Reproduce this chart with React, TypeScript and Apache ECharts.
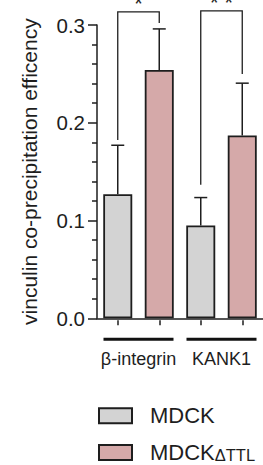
import React, { useEffect, useRef } from 'react';
import * as echarts from 'echarts';

// ---- data ----
const categories = ['β-integrin', 'KANK1'];
const seriesNames = ['MDCK', 'MDCK ΔTTL'];
const mdckValues = [0.127, 0.095];
const mdckErrors = [0.05, 0.0285];
const ttlValues = [0.254, 0.187];
const ttlErrors = [0.042, 0.0535];
const yMin = 0;
const yMax = 0.3;
const yInterval = 0.1;
const barSlots = ['MDCK β-integrin', 'MDCK ΔTTL β-integrin', 'MDCK KANK1', 'MDCK ΔTTL KANK1'];
const sigLabels = ['*', '* *'];
const sigFrom = [0, 2];
const sigTo = [1, 3];
const sigTop = [0.3135, 0.3145];
const sigFromEnd = [0.1825, 0.1365];
const sigToEnd = [0.302, 0.25];

const FONT = '"Liberation Sans", Arial, sans-serif';
const INK = '#1e1e1e';

const legendRich = {
  m: { fontSize: 22, lineHeight: 22, verticalAlign: 'top', color: INK, fontFamily: FONT },
  s: { fontSize: 16.5, lineHeight: 16, padding: [16, 0, 0, 0], verticalAlign: 'bottom', color: INK, fontFamily: FONT },
};

function makeLegend(name: string, top: number) {
  return {
    orient: 'vertical',
    left: 98,
    top,
    padding: 0,
    itemWidth: 33,
    itemHeight: 15,
    icon: 'rect',
    data: [name],
    formatter: (n: string) => (n === seriesNames[0] ? '{m|MDCK}' : '{m|MDCK}{s|ΔTTL}'),
    textStyle: { padding: [0, 0, 0, 13], rich: legendRich },
  };
}

export default function App() {
  const ref = useRef<HTMLDivElement>(null);
  useEffect(() => {
    if (!ref.current) return;
    const chart = echarts.init(ref.current, undefined, { renderer: 'svg' });

    const errorData: number[][] = [];
    categories.forEach((_, c) => {
      errorData.push([2 * c, mdckValues[c], mdckValues[c] + mdckErrors[c]]);
      errorData.push([2 * c + 1, ttlValues[c], ttlValues[c] + ttlErrors[c]]);
    });
    const sigData = sigLabels.map((_, i) => [sigFrom[i], sigTop[i], sigTo[i], sigFromEnd[i], sigToEnd[i], i]);

    const option: any = {
      animation: false,
      textStyle: { fontFamily: FONT },
      grid: { left: 97, right: 0, top: 25, bottom: 146.7, containLabel: false },
      legend: [makeLegend(seriesNames[0], 404.8), makeLegend(seriesNames[1], 430.4)],
      xAxis: [
        {
          type: 'category',
          data: categories,
          axisLine: { lineStyle: { color: INK, width: 1.5 } },
          axisTick: { show: false },
          axisLabel: {
            interval: 0,
            margin: 19.5,
            formatter: (v: string) => `{bar| }\n{name|${v}}`,
            rich: {
              bar: { width: 70, height: 3, lineHeight: 3, backgroundColor: '#111', fontSize: 2 },
              name: { fontSize: 18, lineHeight: 36, color: INK, fontFamily: FONT },
            },
          },
        },
        {
          type: 'category',
          data: barSlots,
          position: 'bottom',
          offset: 2,
          axisLine: { show: false },
          axisTick: { show: true, alignWithLabel: true, interval: 0, length: 5, lineStyle: { color: INK, width: 1.5 } },
          axisLabel: { show: false },
        },
      ],
      yAxis: {
        type: 'value',
        min: yMin,
        max: yMax,
        interval: yInterval,
        name: 'vinculin co-precipitation efficency',
        nameLocation: 'middle',
        nameGap: 57,
        nameTextStyle: { fontSize: 21, color: INK, fontFamily: FONT },
        axisLine: { show: true, lineStyle: { color: INK, width: 1.5 } },
        axisTick: { show: true, length: 9, lineStyle: { color: INK, width: 1.5 } },
        minorTick: { show: true, splitNumber: 5, length: 5, lineStyle: { color: INK, width: 1.5 } },
        splitLine: { show: false },
        axisLabel: {
          margin: 12,
          fontSize: 20.5,
          color: INK,
          fontFamily: FONT,
          formatter: (v: number) => v.toFixed(1),
        },
      },
      series: [
        {
          name: seriesNames[0],
          type: 'bar',
          xAxisIndex: 0,
          data: mdckValues,
          barWidth: 29,
          barGap: '43.1%',
          itemStyle: { color: '#d3d3d3', borderColor: INK, borderWidth: 1.8 },
        },
        {
          name: seriesNames[1],
          type: 'bar',
          xAxisIndex: 0,
          data: ttlValues,
          barWidth: 29,
          barGap: '43.1%',
          itemStyle: { color: '#d5a9a9', borderColor: INK, borderWidth: 1.8 },
        },
        {
          type: 'custom',
          xAxisIndex: 1,
          yAxisIndex: 0,
          clip: false,
          data: errorData,
          renderItem: (_p: any, api: any) => {
            const base = api.coord([api.value(0), api.value(1)]);
            const top = api.coord([api.value(0), api.value(2)]);
            const hw = 6.5;
            const st = { stroke: INK, lineWidth: 1.5 };
            return {
              type: 'group',
              children: [
                { type: 'line', shape: { x1: base[0], y1: base[1], x2: top[0], y2: top[1] }, style: st },
                { type: 'line', shape: { x1: top[0] - hw, y1: top[1], x2: top[0] + hw, y2: top[1] }, style: st },
              ],
            };
          },
        },
        {
          type: 'custom',
          xAxisIndex: 1,
          yAxisIndex: 0,
          clip: false,
          data: sigData,
          renderItem: (_p: any, api: any) => {
            const pL = api.coord([api.value(0), api.value(1)]);
            const pR = api.coord([api.value(2), api.value(1)]);
            const pLe = api.coord([api.value(0), api.value(3)]);
            const pRe = api.coord([api.value(2), api.value(4)]);
            const idx = api.value(5);
            return {
              type: 'group',
              children: [
                {
                  type: 'polyline',
                  shape: { points: [[pLe[0], pLe[1]], [pL[0], pL[1]], [pR[0], pR[1]], [pRe[0], pRe[1]]] },
                  style: { stroke: INK, lineWidth: 1.3, fill: 'none' },
                },
                {
                  type: 'text',
                  x: (pL[0] + pR[0]) / 2,
                  y: pL[1] - 8.5,
                  style: {
                    text: sigLabels[idx],
                    fontSize: 22,
                    fontFamily: FONT,
                    fill: INK,
                    align: 'center',
                    verticalAlign: 'middle',
                  },
                },
              ],
            };
          },
        },
      ],
    };
    chart.setOption(option);
    return () => chart.dispose();
  }, []);
  return (
    <div
      ref={ref}
      style={{ position: 'fixed', left: 0, top: 0, width: 263, height: 465, background: '#fff' }}
    />
  );
}
